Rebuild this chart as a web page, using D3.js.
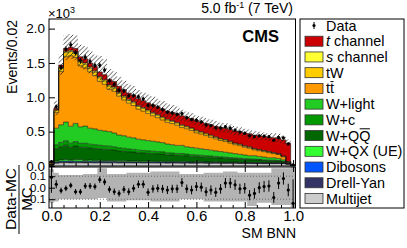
<!DOCTYPE html>
<html><head><meta charset="utf-8">
<script src="https://cdn.jsdelivr.net/npm/d3@7"></script>
<style>html,body{margin:0;padding:0;background:#fff;} svg{display:block;font-family:"Liberation Sans",Arial,Helvetica,sans-serif;}</style>
</head><body><svg id="c" width="407" height="248"></svg>
<script>
const categories = [0.00,0.02,0.04,0.06,0.08,0.10,0.12,0.14,0.16,0.18,0.20,0.22,0.24,0.26,0.28,0.30,0.32,0.34,0.36,0.38,0.40,0.42,0.44,0.46,0.48,0.50,0.52,0.54,0.56,0.58,0.60,0.62,0.64,0.66,0.68,0.70,0.72,0.74,0.76,0.78,0.80,0.82,0.84,0.86,0.88,0.90,0.92,0.94,0.96,0.98,1.00];
const binWidth = 0.02;
const multijet = [0.012,0.040,0.046,0.048,0.045,0.047,0.046,0.045,0.047,0.044,0.046,0.045,0.044,0.046,0.043,0.045,0.044,0.043,0.045,0.042,0.044,0.043,0.042,0.044,0.041,0.043,0.042,0.041,0.042,0.040,0.041,0.042,0.040,0.039,0.041,0.040,0.038,0.039,0.040,0.037,0.038,0.037,0.036,0.037,0.035,0.036,0.034,0.035,0.033,0.025,0.002];
const drellYan = [0.005,0.011,0.013,0.014,0.013,0.012,0.013,0.012,0.012,0.011,0.012,0.011,0.011,0.010,0.011,0.010,0.010,0.010,0.009,0.010,0.009,0.009,0.009,0.008,0.009,0.008,0.008,0.008,0.008,0.007,0.008,0.007,0.007,0.007,0.007,0.006,0.007,0.006,0.006,0.006,0.006,0.006,0.005,0.006,0.005,0.005,0.005,0.005,0.005,0.004,0.000];
const dibosons = [0.002,0.008,0.010,0.011,0.010,0.011,0.010,0.010,0.010,0.009,0.010,0.009,0.009,0.009,0.009,0.008,0.009,0.008,0.008,0.008,0.008,0.008,0.007,0.008,0.007,0.007,0.007,0.007,0.007,0.006,0.007,0.006,0.006,0.006,0.006,0.006,0.006,0.005,0.006,0.005,0.005,0.005,0.005,0.005,0.005,0.004,0.005,0.004,0.004,0.003,0.000];
const wqx = [0.001,0.012,0.018,0.022,0.016,0.020,0.022,0.014,0.017,0.015,0.016,0.013,0.014,0.012,0.013,0.012,0.011,0.012,0.010,0.011,0.010,0.010,0.009,0.010,0.009,0.008,0.009,0.008,0.008,0.007,0.008,0.007,0.007,0.006,0.007,0.006,0.006,0.005,0.006,0.005,0.005,0.005,0.004,0.005,0.004,0.004,0.004,0.003,0.003,0.002,0.000];
const wqq = [0.004,0.182,0.194,0.208,0.188,0.201,0.182,0.19,0.176,0.176,0.166,0.164,0.16,0.155,0.142,0.139,0.131,0.129,0.121,0.118,0.113,0.11,0.108,0.103,0.097,0.093,0.089,0.09,0.082,0.08,0.074,0.071,0.068,0.065,0.06,0.058,0.055,0.052,0.046,0.045,0.04,0.037,0.038,0.034,0.031,0.027,0.027,0.024,0.018,0.006,0.0007];
const wc = [0.001,0.057,0.062,0.065,0.06,0.064,0.057,0.06,0.056,0.055,0.052,0.052,0.051,0.048,0.045,0.044,0.042,0.04,0.038,0.037,0.036,0.035,0.034,0.032,0.03,0.029,0.028,0.028,0.026,0.025,0.024,0.023,0.022,0.021,0.019,0.018,0.017,0.016,0.015,0.014,0.013,0.012,0.012,0.01,0.01,0.009,0.009,0.008,0.005,0.002,0.0003];
const wlight = [0.005,0.24,0.257,0.272,0.248,0.265,0.24,0.25,0.232,0.23,0.218,0.216,0.211,0.2,0.187,0.182,0.173,0.168,0.159,0.154,0.15,0.145,0.141,0.135,0.127,0.122,0.117,0.118,0.107,0.105,0.098,0.094,0.09,0.086,0.08,0.076,0.071,0.067,0.061,0.058,0.053,0.048,0.05,0.043,0.04,0.035,0.036,0.031,0.022,0.008,0.001];
const ttbar = [0.024,0.23,0.775,0.95,1.025,0.96,0.89,0.845,0.821,0.776,0.712,0.679,0.617,0.608,0.566,0.522,0.495,0.47,0.438,0.419,0.396,0.372,0.354,0.33,0.316,0.308,0.294,0.26,0.262,0.248,0.224,0.216,0.202,0.188,0.175,0.161,0.157,0.144,0.13,0.126,0.113,0.109,0.085,0.082,0.078,0.074,0.06,0.057,0.043,0.009,0.002];
const tw = [0.003,0.03,0.05,0.06,0.06,0.06,0.055,0.055,0.05,0.05,0.05,0.048,0.046,0.045,0.043,0.042,0.04,0.04,0.038,0.037,0.036,0.035,0.034,0.033,0.032,0.031,0.03,0.029,0.028,0.027,0.026,0.025,0.024,0.023,0.022,0.021,0.02,0.019,0.018,0.017,0.016,0.015,0.014,0.013,0.012,0.011,0.01,0.009,0.008,0.004,0.0];
const schan = [0.001,0.01,0.015,0.02,0.02,0.02,0.02,0.02,0.019,0.019,0.018,0.018,0.017,0.017,0.016,0.016,0.015,0.015,0.014,0.014,0.013,0.013,0.012,0.012,0.012,0.011,0.011,0.011,0.01,0.01,0.01,0.009,0.009,0.009,0.008,0.008,0.008,0.007,0.007,0.007,0.006,0.006,0.006,0.005,0.005,0.005,0.005,0.004,0.004,0.002,0.0];
const tchan = [0.002,0.02,0.03,0.04,0.045,0.05,0.055,0.06,0.06,0.065,0.07,0.075,0.08,0.08,0.085,0.09,0.09,0.095,0.1,0.1,0.105,0.11,0.11,0.115,0.12,0.12,0.125,0.13,0.13,0.135,0.14,0.14,0.145,0.15,0.155,0.16,0.165,0.17,0.175,0.18,0.185,0.19,0.195,0.2,0.205,0.21,0.215,0.22,0.235,0.265,0.014];
const ratio = [0.09,0.03,-0.025,-0.005,0.02,-0.035,-0.035,0.015,0.015,0.01,0.07,0.05,-0.015,-0.035,-0.05,-0.015,-0.035,-0.005,0.03,0.03,-0.04,-0.01,-0.005,-0.01,-0.02,-0.01,-0.01,0.045,-0.01,-0.02,0.01,0.005,-0.035,-0.02,-0.04,-0.01,0.04,0.04,0.025,-0.01,-0.005,-0.065,-0.05,0.0,0.01,0.015,-0.085,0.04,0.08,-0.02,-0.135];
const uncUp = [0.16,0.13,0.11,0.11,0.11,0.11,0.11,0.12,0.12,0.12,0.17,0.17,0.12,0.12,0.12,0.12,0.13,0.13,0.13,0.13,0.13,0.14,0.14,0.14,0.14,0.14,0.14,0.12,0.12,0.12,0.12,0.12,0.13,0.13,0.13,0.13,0.14,0.14,0.14,0.13,0.13,0.13,0.13,0.13,0.13,0.13,0.17,0.17,0.17,0.17,0.18];
const uncDn = [0.13,0.12,0.10,0.10,0.10,0.10,0.10,0.10,0.10,0.10,0.09,0.09,0.12,0.12,0.12,0.12,0.11,0.11,0.11,0.11,0.11,0.12,0.12,0.12,0.12,0.12,0.12,0.10,0.10,0.10,0.10,0.10,0.12,0.12,0.12,0.12,0.12,0.12,0.12,0.12,0.12,0.16,0.16,0.13,0.13,0.13,0.15,0.15,0.15,0.15,0.17];
const mainTicks = [0, 0.5, 1.0, 1.5, 2.0];
const ratioTicks = [-0.1, 0.0, 0.1];
const xTicks = [0, 0.2, 0.4, 0.6, 0.8, 1.0];
const xMinorTicks = [0.05,0.1,0.15,0.25,0.3,0.35,0.45,0.5,0.55,0.65,0.7,0.75,0.85,0.9,0.95];
const keys = ['multijet','drellYan','dibosons','wqx','wqq','wc','wlight','ttbar','tw','schan','tchan'];
const series = {multijet,drellYan,dibosons,wqx,wqq,wc,wlight,ttbar,tw,schan,tchan};
const colors = {tchan:'#cc0000',schan:'#ffff33',tw:'#ffcc00',ttbar:'#ff9900',wlight:'#22cc22',wc:'#009900',wqq:'#006600',wqx:'#33ff33',dibosons:'#0055ff',drellYan:'#333366',multijet:'#cccccc'};
const legendItems = [
  {key:'data',label:'Data'},
  {key:'tchan',label:[['t','italic'],[' channel','normal']]},
  {key:'schan',label:[['s','italic'],[' channel','normal']]},
  {key:'tw',label:'tW'},
  {key:'ttbar',label:'tt', over:[1,1]},
  {key:'wlight',label:'W+light'},
  {key:'wc',label:'W+c'},
  {key:'wqq',label:'W+QQ', over:[3,1]},
  {key:'wqx',label:'W+QX (UE)'},
  {key:'dibosons',label:'Dibosons'},
  {key:'drellYan',label:'Drell-Yan'},
  {key:'multijet',label:'Multijet'}
];

const svg = d3.select('#c');
const L = 49, R = 295.5, T = 19, B = 166, RT = 167, RB = 208;
const x = d3.scaleLinear().domain([-0.01, 1.01]).range([L, R]);
const y = d3.scaleLinear().domain([0, 2.14]).range([B, T]);
const yr = d3.scaleLinear().domain([-0.1765, 0.18]).range([RB, RT]);
const hw = binWidth/2;

const defs = svg.append('defs');
defs.append('clipPath').attr('id','cm').append('rect').attr('x',L).attr('y',T).attr('width',R-L).attr('height',B-T);
defs.append('clipPath').attr('id','cr').append('rect').attr('x',L).attr('y',RT).attr('width',R-L).attr('height',RB-RT);
const pat = defs.append('pattern').attr('id','hatch').attr('patternUnits','userSpaceOnUse').attr('width',4.5).attr('height',4.5);
pat.append('path').attr('d','M-1,1 L1,-1 M0,4.5 L4.5,0 M3.5,5.5 L5.5,3.5').attr('stroke','#222').attr('stroke-width',0.8);

const rows = categories.map((c,i)=>{const r={x:c}; keys.forEach(k=>r[k]=series[k][i]); return r;});
const stacked = d3.stack().keys(keys)(rows);
const area = d3.area().x(d=>d.x).y0(d=>d.y0).y1(d=>d.y1);
const line = d3.line().x(d=>d.x).y(d=>d.y1);

const gm = svg.append('g').attr('clip-path','url(#cm)');
stacked.forEach(layer=>{
  const pts=[];
  layer.forEach((d,i)=>{const c=categories[i];
    pts.push({x:x(c-hw),y0:y(d[0]),y1:y(d[1])});
    pts.push({x:x(c+hw),y0:y(d[0]),y1:y(d[1])});});
  gm.append('path').attr('d',area(pts)).attr('fill',colors[layer.key]);
});
stacked.forEach(layer=>{
  const pts=[];
  layer.forEach((d,i)=>{const c=categories[i];
    pts.push({x:x(c-hw),y1:y(d[1])});pts.push({x:x(c+hw),y1:y(d[1])});});
  gm.append('path').attr('d',line(pts)).attr('fill','none').attr('stroke','#111').attr('stroke-width',0.7).attr('stroke-opacity',0.8);
});
const totals = stacked[stacked.length-1].map(d=>d[1]);
{
  const pts=[];
  totals.forEach((t,i)=>{const c=categories[i];
    pts.push({x:x(c-hw),y0:y(t*(1-uncDn[i])),y1:y(t*(1+uncUp[i]))});
    pts.push({x:x(c+hw),y0:y(t*(1-uncDn[i])),y1:y(t*(1+uncUp[i]))});});
  gm.append('path').attr('d',area(pts)).attr('fill','url(#hatch)');
}
const dataVals = totals.map((t,i)=>t*(1+ratio[i]));
const dataErr = dataVals.map(v=>Math.sqrt(v*1000)/1000);
const gd = svg.append('g');
categories.forEach((c,i)=>{
  gd.append('line').attr('x1',x(c)).attr('x2',x(c)).attr('y1',y(dataVals[i]-dataErr[i])).attr('y2',y(dataVals[i]+dataErr[i])).attr('stroke','#000').attr('stroke-width',1);
  gd.append('circle').attr('cx',x(c)).attr('cy',y(dataVals[i])).attr('r',1.6).attr('fill','#000');
});

svg.append('rect').attr('x',L).attr('y',T).attr('width',R-L).attr('height',B-T).attr('fill','none').attr('stroke','#000').attr('stroke-width',1);
const ya = svg.append('g').attr('transform',`translate(${L},0)`).call(d3.axisLeft(y).tickValues(mainTicks).tickSize(-6).tickPadding(4).tickFormat(d3.format('.1f')));
ya.select('.domain').remove();
ya.selectAll('text').attr('font-size',13.5).attr('fill','#000');
const xm = svg.append('g').attr('transform',`translate(0,${B})`).call(d3.axisBottom(x).tickValues(xTicks).tickSize(-6).tickFormat(''));
xm.select('.domain').remove();
const xm2 = svg.append('g').attr('transform',`translate(0,${B})`).call(d3.axisBottom(x).tickValues(xMinorTicks).tickSize(-3).tickFormat(''));
xm2.select('.domain').remove();

const gr = svg.append('g').attr('clip-path','url(#cr)');
{
  const pts=[];
  categories.forEach((c,i)=>{
    pts.push({x:x(c-hw),y0:yr(-uncDn[i]),y1:yr(uncUp[i])});
    pts.push({x:x(c+hw),y0:yr(-uncDn[i]),y1:yr(uncUp[i])});});
  gr.append('path').attr('d',area(pts)).attr('fill','#b3b3b3');
}
[0.1,-0.1].forEach(v=>{
  gr.append('line').attr('x1',L).attr('x2',R).attr('y1',yr(v)).attr('y2',yr(v)).attr('stroke','#555').attr('stroke-width',0.8).attr('stroke-dasharray','1,2');
});
categories.forEach((c,i)=>{
  const e = dataErr[i]/totals[i];
  gr.append('line').attr('x1',x(c)).attr('x2',x(c)).attr('y1',yr(ratio[i]-e)).attr('y2',yr(ratio[i]+e)).attr('stroke','#000').attr('stroke-width',1);
  gr.append('circle').attr('cx',x(c)).attr('cy',yr(ratio[i])).attr('r',1.6).attr('fill','#000');
});
svg.append('rect').attr('x',L).attr('y',RT).attr('width',R-L).attr('height',RB-RT).attr('fill','none').attr('stroke','#000').attr('stroke-width',1);
const yra = svg.append('g').attr('transform',`translate(${L},0)`).call(d3.axisLeft(yr).tickValues(ratioTicks).tickSize(-6).tickPadding(3).tickFormat(d3.format('.1f')));
yra.select('.domain').remove();
yra.selectAll('text').attr('font-size',11.5).attr('fill','#000');
const xa = svg.append('g').attr('transform',`translate(0,${RB})`).call(d3.axisBottom(x).tickValues(xTicks).tickSize(-6).tickPadding(2).tickFormat(d3.format('.1f')));
xa.select('.domain').remove();
xa.selectAll('text').attr('font-size',15).attr('fill','#000');
const xa2 = svg.append('g').attr('transform',`translate(0,${RB})`).call(d3.axisBottom(x).tickValues(xMinorTicks).tickSize(-3).tickFormat(''));
xa2.select('.domain').remove();
const xt = svg.append('g').attr('transform',`translate(0,${RT})`).call(d3.axisTop(x).tickValues(xTicks).tickSize(-5).tickFormat(''));
xt.select('.domain').remove();
svg.selectAll('.tick line').attr('stroke','#000');

svg.append('text').attr('transform','translate(17,20) rotate(-90)').attr('text-anchor','end').attr('font-size',14).text('Events/0.02');
const sc = svg.append('text').attr('x',48).attr('y',18).attr('font-size',13);
sc.append('tspan').text('\u00d710');
sc.append('tspan').attr('font-size',9).attr('dy',-5).text('3');
const lumi = svg.append('text').attr('x',293).attr('y',13).attr('text-anchor','end').attr('font-size',14);
lumi.append('tspan').text('5.0 fb');
lumi.append('tspan').attr('font-size',9).attr('dy',-5).text('-1');
lumi.append('tspan').attr('dy',5).text(' (7 TeV)');
svg.append('text').attr('x',279).attr('y',41.5).attr('text-anchor','end').attr('font-size',16.5).attr('font-weight','bold').text('CMS');
svg.append('text').attr('x',296).attr('y',238).attr('text-anchor','end').attr('font-size',14).text('SM BNN');
svg.append('text').attr('transform','translate(16,199) rotate(-90)').attr('text-anchor','middle').attr('font-size',15.5).text('Data-MC');
svg.append('line').attr('x1',19).attr('x2',19).attr('y1',165).attr('y2',234).attr('stroke','#000').attr('stroke-width',1);
svg.append('text').attr('transform','translate(32,199) rotate(-90)').attr('text-anchor','middle').attr('font-size',15).text('MC');

const LX = 300, LY = 19, LW = 104, LH = 189;
svg.append('rect').attr('x',LX).attr('y',LY).attr('width',LW).attr('height',LH).attr('fill','#fff').attr('stroke','#000').attr('stroke-width',1);
const rowY = d3.scaleLinear().domain([0,11]).range([25.5,198.5]);
legendItems.forEach((it,i)=>{
  const cy = rowY(i);
  if(it.key==='data'){
    svg.append('line').attr('x1',314).attr('x2',314).attr('y1',cy-3.5).attr('y2',cy+3.5).attr('stroke','#000');
    svg.append('circle').attr('cx',314).attr('cy',cy).attr('r',1.6).attr('fill','#000');
  } else {
    svg.append('rect').attr('x',305).attr('y',cy-5).attr('width',18).attr('height',10).attr('fill',colors[it.key]).attr('stroke','#333').attr('stroke-width',0.8);
  }
  const tx = svg.append('text').attr('x',326).attr('y',cy+5).attr('font-size',14.4);
  if(Array.isArray(it.label)){
    it.label.forEach(p=>tx.append('tspan').attr('font-style',p[1]).text(p[0]));
  } else tx.text(it.label);
  if(it.over){
    const n = tx.node();
    const a = n.getExtentOfChar(it.over[0]);
    const b = n.getExtentOfChar(it.over[0]+it.over[1]-1);
    svg.append('line').attr('x1',a.x+0.5).attr('x2',b.x+b.width-0.5).attr('y1',a.y+1.2).attr('y2',a.y+1.2).attr('stroke','#000').attr('stroke-width',1);
  }
});
</script></body></html>
